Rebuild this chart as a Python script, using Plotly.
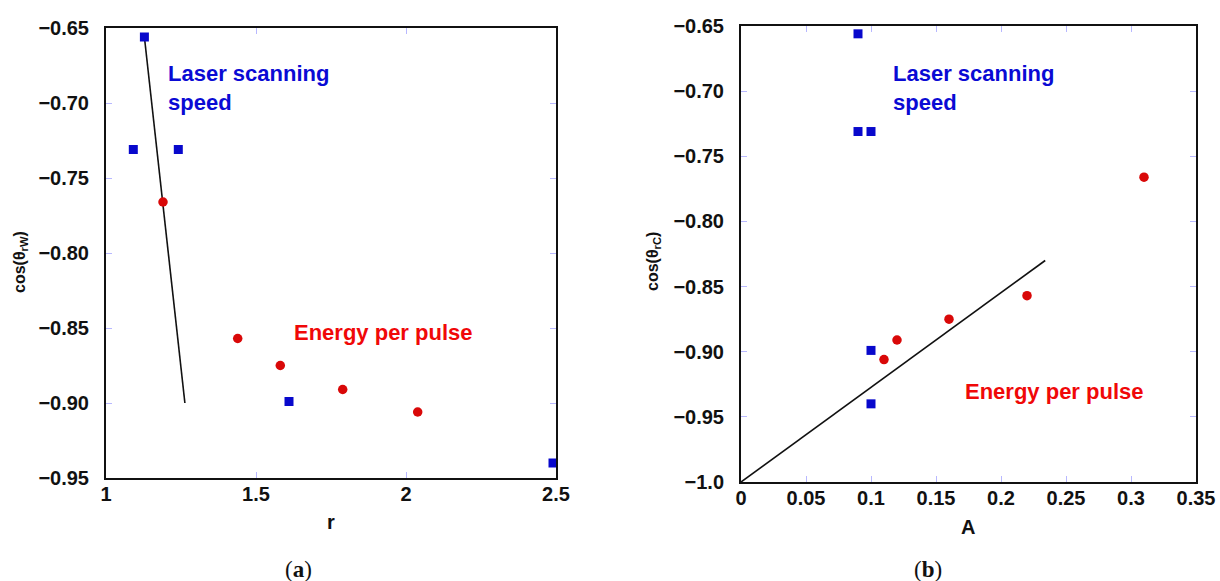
import plotly.graph_objects as go

# Laser scanning speed series (blue squares)
speed_r = [1.128, 1.091, 1.241, 1.61, 2.49]
speed_A = [0.09, 0.09, 0.10, 0.10, 0.10]
speed_cos = [-0.656, -0.731, -0.731, -0.899, -0.940]

# Energy per pulse series (red circles)
energy_r = [1.19, 1.439, 1.581, 1.789, 2.039]
energy_A = [0.31, 0.22, 0.16, 0.12, 0.11]
energy_cos = [-0.766, -0.857, -0.875, -0.891, -0.906]

# Trend lines
fit_a_x = [1.128, 1.263]
fit_a_y = [-0.656, -0.90]
fit_b_x = [0.0, 0.234]
fit_b_y = [-1.0, -0.83]

# Tick values and labels
xa_ticks = [1, 1.5, 2, 2.5]
xa_text = ["1", "1.5", "2", "2.5"]
ya_ticks = [-0.95, -0.90, -0.85, -0.80, -0.75, -0.70, -0.65]
ya_text = ["\u22120.95", "\u22120.90", "\u22120.85", "\u22120.80", "\u22120.75", "\u22120.70", "\u22120.65"]
xb_ticks = [0, 0.05, 0.1, 0.15, 0.2, 0.25, 0.3, 0.35]
xb_text = ["0", "0.05", "0.1", "0.15", "0.2", "0.25", "0.3", "0.35"]
yb_ticks = [-1.0, -0.95, -0.90, -0.85, -0.80, -0.75, -0.70, -0.65]
yb_text = ["\u22121.0", "\u22120.95", "\u22120.90", "\u22120.85", "\u22120.80", "\u22120.75", "\u22120.70", "\u22120.65"]


def bold(labels):
    return ["<b>%s</b>" % t for t in labels]


BLUE = "#0808cc"
RED = "#d90808"
TEXT_BLUE = "#0a0ad4"
TEXT_RED = "#f00808"
TICK_COLOR = "#b8b8ff"
FONT = "Liberation Sans"

fig = go.Figure()

# Panel (a)
fig.add_trace(go.Scatter(x=fit_a_x, y=fit_a_y, mode="lines",
                         line=dict(color="#111111", width=1.6),
                         xaxis="x", yaxis="y", showlegend=False))
fig.add_trace(go.Scatter(x=speed_r, y=speed_cos, mode="markers",
                         marker=dict(symbol="square", size=9, color=BLUE),
                         xaxis="x", yaxis="y", showlegend=False))
fig.add_trace(go.Scatter(x=energy_r, y=energy_cos, mode="markers",
                         marker=dict(symbol="circle", size=9.5, color=RED),
                         xaxis="x", yaxis="y", showlegend=False))

# Panel (b)
fig.add_trace(go.Scatter(x=fit_b_x, y=fit_b_y, mode="lines",
                         line=dict(color="#111111", width=1.6),
                         xaxis="x2", yaxis="y2", showlegend=False))
fig.add_trace(go.Scatter(x=speed_A, y=speed_cos, mode="markers",
                         marker=dict(symbol="square", size=9, color=BLUE),
                         xaxis="x2", yaxis="y2", showlegend=False))
fig.add_trace(go.Scatter(x=energy_A, y=energy_cos, mode="markers",
                         marker=dict(symbol="circle", size=9.5, color=RED),
                         xaxis="x2", yaxis="y2", showlegend=False))

axis_common = dict(
    showgrid=False, zeroline=False, automargin=False,
    showline=True, linecolor="#111111", linewidth=2, mirror="allticks",
    ticks="inside", ticklen=6, tickwidth=1, tickcolor=TICK_COLOR,
    tickfont=dict(family=FONT, size=20, color="#111111", weight="bold"),
    tickmode="array",
)

fig.update_layout(
    width=1220, height=581,
    margin=dict(l=0, r=0, t=0, b=0, autoexpand=False),
    paper_bgcolor="white", plot_bgcolor="white",
    xaxis=dict(axis_common, domain=[106 / 1220, 556 / 1220], range=[1, 2.5],
               tickvals=xa_ticks, ticktext=bold(xa_text), anchor="y",
               ticklabelstandoff=-3),
    yaxis=dict(axis_common, domain=[1 - 478 / 581, 1 - 28 / 581], range=[-0.95, -0.65],
               tickvals=ya_ticks, ticktext=bold(ya_text), anchor="x",
               ticklabelstandoff=11),
    xaxis2=dict(axis_common, domain=[741 / 1220, 1196 / 1220], range=[0, 0.35],
                tickvals=xb_ticks, ticktext=bold(xb_text), anchor="y2",
                ticklabelstandoff=-3),
    yaxis2=dict(axis_common, domain=[1 - 482 / 581, 1 - 26 / 581], range=[-1.0, -0.65],
                tickvals=yb_ticks, ticktext=bold(yb_text), anchor="x2",
                ticklabelstandoff=11),
)

label_font = dict(family=FONT, size=22, weight="bold")
title_font = dict(family=FONT, size=20, color="#111111", weight="bold")
ytitle_font = dict(family=FONT, size=16, color="#111111", weight="bold")
panel_font = dict(family="Liberation Serif", size=23, color="#111111")

centered = dict(xref="paper", yref="paper", xanchor="center", yanchor="middle",
                showarrow=False)

annotations = [
    # series labels, panel (a)
    dict(x=1.2, y=-0.69, xref="x", yref="y", xanchor="left", yanchor="middle",
         text="<b>Laser scanning<br>speed</b>", align="left", showarrow=False,
         font=dict(label_font, color=TEXT_BLUE)),
    dict(x=1.62, y=-0.8527, xref="x", yref="y", xanchor="left", yanchor="middle",
         text="<b>Energy per pulse</b>", showarrow=False,
         font=dict(label_font, color=TEXT_RED)),
    # series labels, panel (b)
    dict(x=0.1155, y=-0.6977, xref="x2", yref="y2", xanchor="left", yanchor="middle",
         text="<b>Laser scanning<br>speed</b>", align="left", showarrow=False,
         font=dict(label_font, color=TEXT_BLUE)),
    dict(x=0.171, y=-0.9305, xref="x2", yref="y2", xanchor="left", yanchor="middle",
         text="<b>Energy per pulse</b>", showarrow=False,
         font=dict(label_font, color=TEXT_RED)),
    # axis titles
    dict(centered, x=331 / 1220, y=1 - 522 / 581, text="<b>r</b>", font=title_font),
    dict(centered, x=968 / 1220, y=1 - 527 / 581, text="<b>A</b>", font=title_font),
    dict(centered, x=20 / 1220, y=1 - 262 / 581, textangle=-90,
         text="<b>cos(\u03b8<sub>rW</sub>)</b>", font=ytitle_font),
    dict(centered, x=653 / 1220, y=1 - 262 / 581, textangle=-90,
         text="<b>cos(\u03b8<sub>rC</sub>)</b>", font=ytitle_font),
    # panel captions
    dict(centered, x=298 / 1220, y=1 - 569 / 581, text="(<b>a</b>)", font=panel_font),
    dict(centered, x=928 / 1220, y=1 - 569 / 581, text="(<b>b</b>)", font=panel_font),
]
fig.update_layout(annotations=annotations)

fig.write_html("out.html")
